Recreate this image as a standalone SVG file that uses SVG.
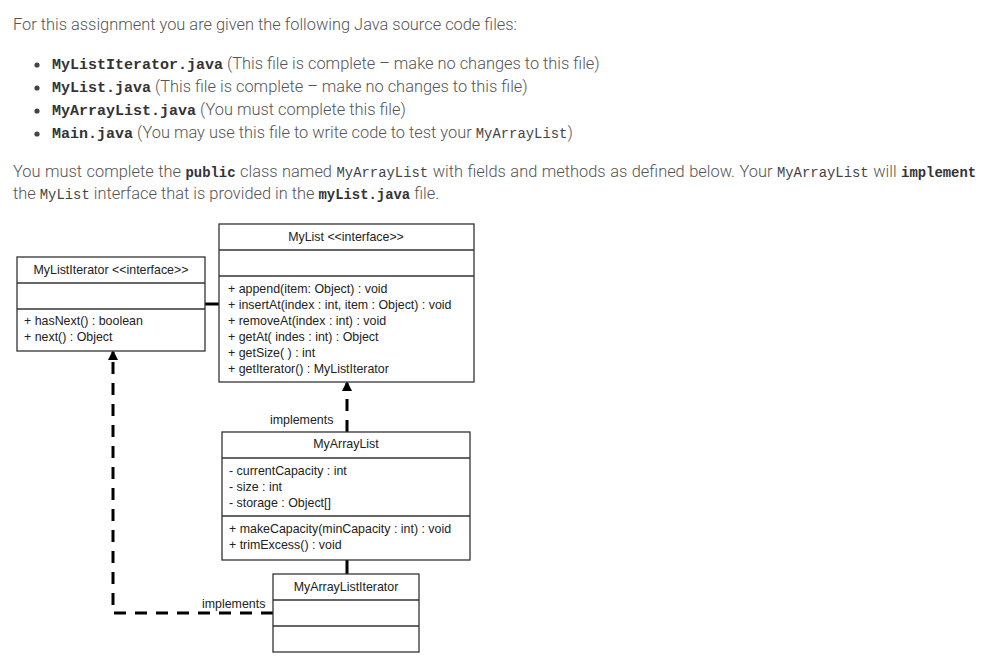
<svg xmlns="http://www.w3.org/2000/svg" width="1007" height="658" viewBox="0 0 1007 658">
<style>
.p{font-family:Roboto,"Liberation Sans",sans-serif;font-weight:300;font-size:16.4px;fill:#555}
.cb{font-family:"Liberation Mono",monospace;font-weight:bold;font-size:15px;fill:#333}
.c{font-family:"Liberation Mono",monospace;font-size:13.9px;fill:#444}
.cbs{font-family:"Liberation Mono",monospace;font-weight:bold;font-size:13.9px;fill:#333}
.ws{word-spacing:0.5px}
.box{fill:#fff;stroke:#333;stroke-width:1.3}
.div{stroke:#333;stroke-width:1.3}
.t{font-family:"Liberation Sans",Arial,sans-serif;font-size:12.4px;fill:#222}
.m{text-anchor:middle}
.solid{stroke:#000;stroke-width:3;fill:none}
.dash{stroke:#000;stroke-width:3;fill:none;stroke-dasharray:12 9}
</style>
<defs>
<marker id="arr" markerWidth="10" markerHeight="10" refX="8" refY="5" orient="auto" markerUnits="userSpaceOnUse">
<path d="M0,0 L10,5 L0,10 Z" fill="#000"/>
</marker>
</defs>
<rect width="1007" height="658" fill="#fff"/>
<g id="intro">
<text class="p" x="13" y="30">For this assignment you are given the following Java source code files:</text>
<circle cx="37" cy="65" r="2.6" fill="#444"/>
<circle cx="37" cy="88" r="2.6" fill="#444"/>
<circle cx="37" cy="111" r="2.6" fill="#444"/>
<circle cx="37" cy="134" r="2.6" fill="#444"/>
<text x="52" y="69"><tspan class="cb">MyListIterator.java</tspan><tspan class="p"> (This file is complete – make no changes to this file)</tspan></text>
<text x="52" y="92"><tspan class="cb">MyList.java</tspan><tspan class="p"> (This file is complete – make no changes to this file)</tspan></text>
<text x="52" y="115"><tspan class="cb">MyArrayList.java</tspan><tspan class="p"> (You must complete this file)</tspan></text>
<text x="52" y="138"><tspan class="cb">Main.java</tspan><tspan class="p"> (You may use this file to write code to test your </tspan><tspan class="c">MyArrayList</tspan><tspan class="p">)</tspan></text>
<text class="ws" x="13" y="177"><tspan class="p">You must complete the </tspan><tspan class="cbs">public</tspan><tspan class="p"> class named </tspan><tspan class="c">MyArrayList</tspan><tspan class="p"> with fields and methods as defined below. Your </tspan><tspan class="c">MyArrayList</tspan><tspan class="p"> will </tspan><tspan class="cbs">implement</tspan></text>
<text x="13" y="199"><tspan class="p">the </tspan><tspan class="c">MyList</tspan><tspan class="p"> interface that is provided in the </tspan><tspan class="cbs">myList.java</tspan><tspan class="p"> file.</tspan></text>
</g>
<g id="connectors">
<line class="solid" x1="205" y1="304" x2="219" y2="304"/>
<line class="solid" x1="347" y1="560" x2="347" y2="574"/>
<line class="dash" x1="347" y1="432" x2="347" y2="383" marker-end="url(#arr)"/>
<polyline class="dash" points="273,613 113,613 113,352" marker-end="url(#arr)"/>
<text class="t" x="270" y="424">implements</text>
<text class="t" x="202" y="608">implements</text>
</g>
<g id="MyList">
<rect class="box" x="219" y="224" width="255" height="158"/>
<line class="div" x1="219" y1="250" x2="474" y2="250"/>
<line class="div" x1="219" y1="276" x2="474" y2="276"/>
<text class="t m" x="346" y="241">MyList &lt;&lt;interface&gt;&gt;</text>
<text class="t" x="228" y="293">+ append(item: Object) : void</text>
<text class="t" x="228" y="309">+ insertAt(index : int, item : Object) : void</text>
<text class="t" x="228" y="325">+ removeAt(index : int) : void</text>
<text class="t" x="228" y="341">+ getAt( indes : int) : Object</text>
<text class="t" x="228" y="357">+ getSize( ) : int</text>
<text class="t" x="228" y="373">+ getIterator() : MyListIterator</text>
</g>
<g id="MyListIterator">
<rect class="box" x="17" y="257" width="188" height="94"/>
<line class="div" x1="17" y1="283" x2="205" y2="283"/>
<line class="div" x1="17" y1="309" x2="205" y2="309"/>
<text class="t m" x="111" y="274">MyListIterator &lt;&lt;interface&gt;&gt;</text>
<text class="t" x="24" y="325">+ hasNext() : boolean</text>
<text class="t" x="24" y="341">+ next() : Object</text>
</g>
<g id="MyArrayList">
<rect class="box" x="222" y="432" width="248" height="128"/>
<line class="div" x1="222" y1="458" x2="470" y2="458"/>
<line class="div" x1="222" y1="516" x2="470" y2="516"/>
<text class="t m" x="346" y="448">MyArrayList</text>
<text class="t" x="229" y="475">- currentCapacity : int</text>
<text class="t" x="229" y="491">- size : int</text>
<text class="t" x="229" y="507">- storage : Object[]</text>
<text class="t" x="229" y="533">+ makeCapacity(minCapacity : int) : void</text>
<text class="t" x="229" y="549">+ trimExcess() : void</text>
</g>
<g id="MyArrayListIterator">
<rect class="box" x="273" y="574" width="146" height="78"/>
<line class="div" x1="273" y1="600" x2="419" y2="600"/>
<line class="div" x1="273" y1="626" x2="419" y2="626"/>
<text class="t m" x="346" y="591">MyArrayListIterator</text>
</g>
</svg>
